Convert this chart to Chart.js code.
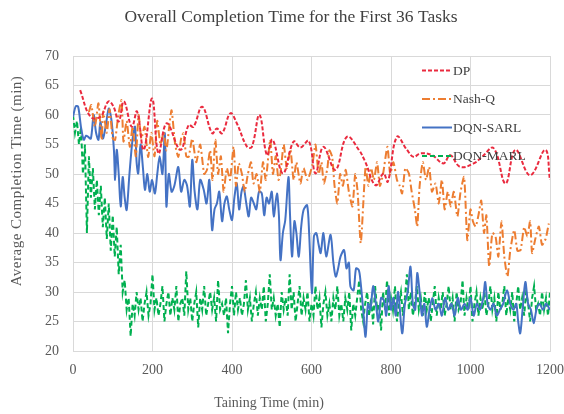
<!DOCTYPE html>
<html>
<head>
<meta charset="utf-8">
<title>Overall Completion Time for the First 36 Tasks</title>
<script src="https://cdn.jsdelivr.net/npm/chart.js@4.4.1/dist/chart.umd.min.js"></script>
<style>
  html, body { margin: 0; padding: 0; background: #ffffff; }
  canvas { display: block; }
</style>
</head>
<body>
<canvas id="chart" width="564" height="414"></canvas>
<script>
// Axis ticks
const timeTicks = [0, 200, 400, 600, 800, 1000, 1200];
const completionTicks = [20, 25, 30, 35, 40, 45, 50, 55, 60, 65, 70];

// Series names
const seriesNames = ['DP', 'Nash-Q', 'DQN-SARL', 'DQN-MARL'];

// DP: [training time (min), average completion time (min)]
const dpPoints = [
  [18,64.2],[44,59.7],[69,59.7],[89,62.3],[102,61.4],[115,58.9],[128,62.3],[148,58.0],[161,60.6],[178,54.1],
  [199,62.8],[215,53.5],[236,58.6],[270,54.1],[291,58.3],[303,58.0],[325,61.4],[350,56.9],[362,57.7],[375,56.9],
  [396,60.3],[412,58.6],[438,54.6],[450,54.6],[469,60.0],[488,53.2],[502,55.8],[528,50.1],[555,55.5],[572,54.5],
  [593,55.6],[610,50.1],[630,54.6],[660,50.7],[689,56.3],[719,54.1],[735,52.1],[761,48.1],[781,50.1],[792,48.7],
  [815,56.3],[840,54.1],[857,52.9],[874,53.5],[903,53.2],[932,51.8],[949,53.2],[974,51.2],[1008,51.8],[1029,52.9],
  [1058,54.4],[1088,48.4],[1113,54.1],[1150,49.8],[1188,54.1],[1200,49.0]
];

// Nash-Q
const nashPoints = [
  [40,60.5],[46,61.7],[55,58],[64,62],[72,55.8],[76,60.6],[85,57],[92,61],[100,56],[106,55.8],
  [114,60],[122,62.5],[127,55.5],[135,59],[143,54.6],[150,58],[158,53],[165,60],[172,56],[180,58],
  [189,52.9],[197,57],[205,53],[212,59],[220,55],[228,57],[235,54],[242,58],[248,60.8],[257,55],
  [265,52.9],[272,56],[278,56.9],[285,53],[291,52.9],[300,56],[310,52],[320,55],[330,50],[337,50.7],
  [345,54],[351,49],[358,55.8],[365,50],[372,53],[379,47.0],[387,51],[395,49],[404,54.6],[410,48],
  [417,51.8],[425,50],[432,47],[440,50],[448,52],[454,48.4],[462,50],[470,47],[478,52],[485,49],
  [496,55.8],[503,50],[510,53],[517,49],[522,50.1],[530,55],[538,51],[547,54.1],[555,49],[562,52],
  [572,48.4],[580,51],[590,49],[602,51.5],[610,55],[618,50],[625,52],[631,48.4],[640,51],[645,54],
  [652,52.9],[658,48],[665,45],[672,50],[679,48],[686,50.7],[694,47],[703,44.5],[710,50],[716,47],
  [724,38.3],[736,51.2],[743,48],[750,51],[757,49],[765,52],[772,48],[780,50],[791,54.6],[798,50],
  [806,52],[815,49],[822,48],[828,46.7],[836,51],[845,50.1],[852,47],[860,44],[866,41.1],[872,48],
  [880,52],[888,49],[896,51.2],[903,47],[912,48.4],[920,45],[928,49],[935,44],[943,47],[950,44.5],
  [958,47],[967,42.8],[975,47],[984,49.5],[992,38.8],[1000,44],[1006,42],[1013,41.1],[1020,43],[1027,45.5],
  [1034,40],[1040,43],[1047,34.3],[1055,40],[1063,39.4],[1070,36],[1078,42],[1085,36],[1093,32.6],[1100,37],
  [1110,40.5],[1118,37],[1126,37.1],[1135,41],[1143,39.4],[1150,42],[1155,36.6],[1163,39],[1172,41.1],[1180,38],
  [1189,39],[1197,41.6]
];

// DQN-SARL
const sarlPoints = [
  [0,59.7],[7,61.5],[13,61.4],[20,58],[27,55.8],[33,56.5],[38,56.3],[45,56],[52,60.0],[58,57],
  [64,55.8],[69,58.9],[75,56],[82,58],[90,61.1],[97,59],[103,54],[106,49.0],[110,54.1],[115,50],
  [120,44.5],[125,49.5],[130,46],[135,43.9],[142,50],[150,56],[156,58.0],[160,52],[164,50.1],[170,55],
  [176,51],[181,47.3],[187,50],[193,47],[199,49],[206,46.7],[212,50],[218,53],[225,50],[231,56.9],
  [235,44.5],[241,50],[248,47],[255,48],[265,51.2],[272,47],[280,49],[287,48],[294,44.5],[300,52.4],
  [306,47],[313,44],[320,49],[329,47.3],[336,45],[343,49],[350,40.5],[356,44],[362,45.0],[368,47],
  [375,42],[381,45],[387,46.2],[393,44],[400,42.2],[406,46],[412,48.4],[418,44],[424,47],[429,47.9],
  [436,45],[442,42.8],[448,46],[455,45],[461,44],[468,47],[475,46.7],[481,43],[487,46],[493,45],
  [500,47],[505,42.8],[513,46.7],[518,43],[522,35.4],[528,40],[534,42.2],[542,49.5],[546,43],[551,36.0],
  [557,42],[562,40],[568,36.0],[574,41],[580,43.9],[589,44.7],[594,40],[601,29.8],[606,39.4],[612,40],
  [618,38],[623,36.6],[630,40],[637,36],[648,39.7],[655,35],[661,32.6],[667,34],[673,36],[682,37.1],
  [688,34],[694,35],[698,30.9],[706,30.3],[712,34],[719,33.7],[723,32.0],[730,27],[736,22.4],[742,28],
  [748,27],[755,31],[762,28],[768,25],[775,29],[782,28.6],[788,26],[794,31],[800,27],[806,29],
  [812,26],[818,30],[828,23.0],[835,28],[842,30],[849,34.3],[855,28],[861,27],[866,33.2],[872,30],
  [878,26],[884,28],[890,24.1],[897,27],[904,29],[912,27],[920,28],[928,26],[936,29],[944,27],
  [952,28],[960,26],[968,29],[976,27],[985,28],[993,27],[1000,29],[1008,26],[1016,28],[1024,27],
  [1032,29],[1037,31.7],[1043,28],[1050,27],[1058,28],[1066,26],[1074,27],[1082,28],[1092,30.3],[1100,28],
  [1108,27],[1115,28],[1120,25],[1125,23.0],[1131,27],[1138,31.7],[1145,28],[1152,27],[1159,24.7],[1166,27],
  [1174,28],[1182,27],[1190,28],[1200,27]
];

// DQN-MARL, sampled every 5 minutes from t = 0
const marlStep = 5;
const marlValues = [
  60, 57, 59, 55, 58, 50, 55, 40, 53, 46,
  51, 44, 49, 43, 48, 41, 46, 39, 45, 37,
  43, 36, 41, 33, 38, 30, 32,
  27, 29, 22.5, 28, 26, 30, 27, 29, 25, 28,
  30, 26, 28, 33, 27, 29, 26, 28, 31, 25,
  28, 30, 26, 29, 27, 31, 25, 28, 29, 26,
  33.5, 27, 29, 25, 28, 30, 24, 29, 27, 31,
  26, 28, 30, 27, 29, 25, 32, 27, 28, 26,
  29, 23, 28, 31, 26, 30, 27, 29, 26, 28,
  32, 27, 29, 25, 28, 30, 26, 29, 27, 31,
  25, 28, 33, 27, 29, 26, 28, 24, 30, 27,
  29, 26, 33, 27, 30, 25, 28, 31, 26, 29,
  27, 30, 25, 28, 26, 31, 27, 29, 24, 28,
  30, 26, 28, 25, 29, 27, 31, 26, 28, 25,
  29, 27, 30, 23.5, 28, 26, 29, 32, 27, 25,
  28, 30, 26, 29, 24.5, 31, 27, 28, 23.5, 30,
  27, 32, 26, 29, 27, 31, 25, 28, 30, 26,
  29, 33, 27, 30, 26, 28, 31, 27, 29, 26,
  30, 27, 29, 25, 28, 31, 26, 29, 27, 30,
  26, 28, 31, 27, 29, 25, 30, 27, 28, 32,
  26, 29, 27, 31, 25, 28, 30, 26, 29, 27,
  30, 26, 28, 31, 27, 29, 25, 30, 27, 28,
  31, 26, 29, 27, 30, 25, 28, 31, 27, 29,
  26, 30, 28, 25, 29, 31, 27, 28, 26, 30,
  27, 29, 26, 30
];

const toXY = pts => pts.map(([x, y]) => ({ x, y }));
const marlData = marlValues.map((y, i) => ({ x: i * marlStep, y }));

const SERIF = "'Liberation Serif', 'Times New Roman', serif";
const TICK_COLOR = '#595959';
const TEXT_COLOR = '#404040';

// Titles, axis names and the in-plot legend
const annotate = {
  id: 'annotate',
  afterDatasetsDraw(chart) {
    const ctx = chart.ctx;
    const rows = [70.5, 99, 127.5, 156];
    ctx.save();
    chart.data.datasets.forEach((ds, i) => {
      const y = rows[i];
      ctx.beginPath();
      ctx.strokeStyle = ds.borderColor;
      ctx.lineWidth = ds.borderWidth;
      ctx.setLineDash(ds.borderDash || []);
      ctx.moveTo(422, y);
      ctx.lineTo(452, y);
      ctx.stroke();
      ctx.setLineDash([]);
      ctx.fillStyle = TEXT_COLOR;
      ctx.font = '13.5px ' + SERIF;
      ctx.textAlign = 'left';
      ctx.textBaseline = 'middle';
      ctx.fillText(ds.label, 453, y + 0.5);
    });
    ctx.restore();
  },
  afterDraw(chart) {
    const ctx = chart.ctx;
    ctx.save();
    ctx.fillStyle = TEXT_COLOR;
    ctx.textAlign = 'center';
    ctx.textBaseline = 'middle';
    ctx.font = '17.5px ' + SERIF;
    ctx.fillText('Overall Completion Time for the First 36 Tasks', 291, 17);

    ctx.fillStyle = TICK_COLOR;
    ctx.font = '14px ' + SERIF;
    ctx.fillText('Taining Time (min)', 269, 403);

    ctx.translate(17, 181);
    ctx.rotate(-Math.PI / 2);
    ctx.font = '15px ' + SERIF;
    ctx.letterSpacing = '0.5px';
    ctx.fillText('Average Completion Time (min)', 0, 0);
    ctx.restore();
  }
};

new Chart(document.getElementById('chart'), {
  type: 'line',
  data: {
    datasets: [
      {
        label: seriesNames[0],
        data: toXY(dpPoints),
        borderColor: '#ea2a3e',
        borderWidth: 2,
        borderDash: [4, 2],
        tension: 0.4,
        pointRadius: 0
      },
      {
        label: seriesNames[1],
        data: toXY(nashPoints),
        borderColor: '#ed7d31',
        borderWidth: 2,
        borderDash: [8, 3, 2, 3],
        tension: 0.2,
        pointRadius: 0
      },
      {
        label: seriesNames[2],
        data: toXY(sarlPoints),
        borderColor: '#4472c4',
        borderWidth: 2,
        tension: 0.3,
        pointRadius: 0
      },
      {
        label: seriesNames[3],
        data: marlData,
        borderColor: '#00b050',
        borderWidth: 2,
        borderDash: [5, 3],
        tension: 0,
        pointRadius: 0
      }
    ]
  },
  options: {
    responsive: false,
    animation: false,
    devicePixelRatio: 1,
    layout: { padding: { top: 56, right: 14, left: 0, bottom: 0 } },
    plugins: {
      legend: { display: false },
      title: { display: false },
      tooltip: { enabled: false }
    },
    scales: {
      x: {
        type: 'linear',
        min: timeTicks[0],
        max: timeTicks[timeTicks.length - 1],
        afterBuildTicks: s => { s.ticks = timeTicks.map(v => ({ value: v })); },
        afterFit: s => { s.height = 63; s.paddingLeft = 0; s.paddingRight = 0; },
        grid: { color: '#d9d9d9', lineWidth: 1, drawTicks: false },
        border: { color: '#d9d9d9' },
        ticks: {
          padding: 11,
          maxRotation: 0,
          color: TICK_COLOR,
          font: { family: SERIF, size: 14 },
          callback: v => String(v)
        }
      },
      y: {
        type: 'linear',
        min: completionTicks[0],
        max: completionTicks[completionTicks.length - 1],
        afterBuildTicks: s => { s.ticks = completionTicks.map(v => ({ value: v })); },
        afterFit: s => { s.width = 73; },
        grid: { color: '#d9d9d9', lineWidth: 1, drawTicks: false },
        border: { color: '#d9d9d9' },
        ticks: {
          padding: 14,
          color: TICK_COLOR,
          font: { family: SERIF, size: 14 },
          callback: v => String(v)
        }
      }
    }
  },
  plugins: [annotate]
});
</script>
</body>
</html>
